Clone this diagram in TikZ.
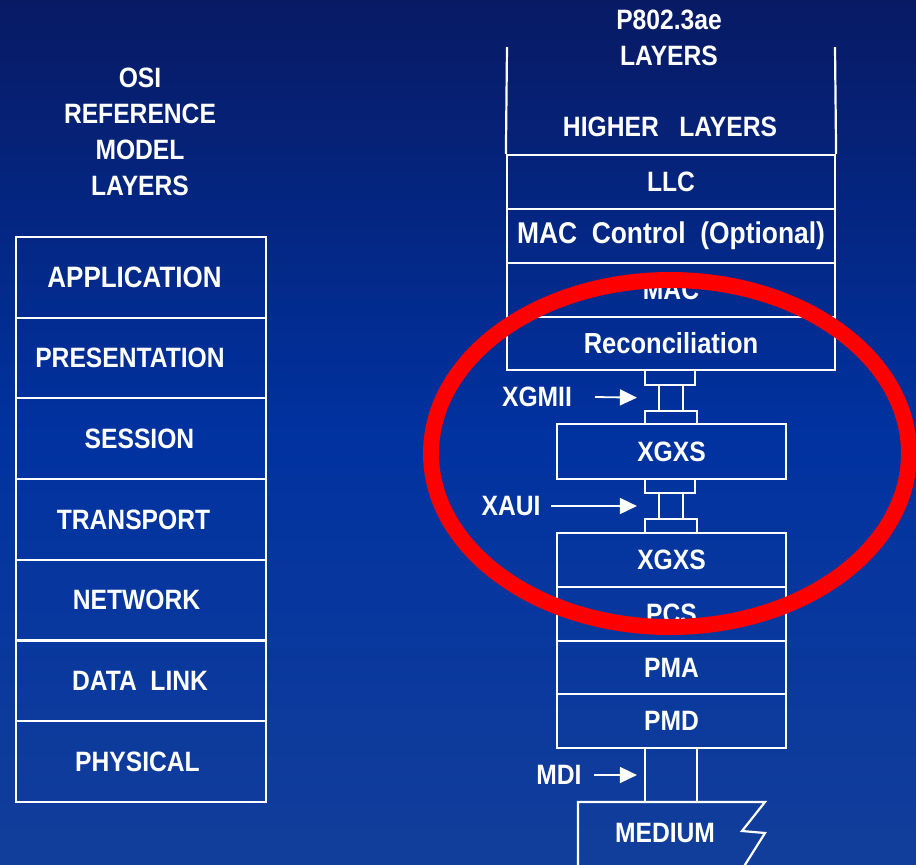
\documentclass[tikz,border=0pt]{standalone}
\usepackage{fontspec}
\setmainfont{Liberation Sans}[FakeStretch=0.88]
\usetikzlibrary{arrows.meta}
\definecolor{bgtop}{RGB}{8,26,100}
\definecolor{bgmid}{RGB}{0,50,160}
\definecolor{bgbot}{RGB}{18,62,155}
\newcommand\labfont{\fontsize{28}{36}\selectfont\bfseries}
\newcommand\bigfont{\fontsize{30}{36}\selectfont\bfseries}
\begin{document}
\begin{tikzpicture}[x=1pt,y=-1pt,
  cell/.style={draw=white, line width=2.2pt, inner sep=0pt, text=white, font=\labfont},
  osi/.style={cell, minimum width=250pt, minimum height=80.7pt},
  wide/.style={cell, minimum width=328pt, minimum height=54pt},
  plain/.style={draw=white, line width=2.2pt},
  lbl/.style={text=white, font=\labfont, inner sep=0pt},
  arr/.style={draw=white, line width=1.8pt, shorten >=21pt, -{Triangle[length=17pt,width=16pt]}}]
\useasboundingbox (0,0) rectangle (916,865);
\shade[top color=bgtop, bottom color=bgbot, middle color=bgmid] (0,0) rectangle (916,865);

% OSI column
\node[lbl, align=center] (osititle) at (140,132) {OSI\\REFERENCE\\MODEL\\LAYERS};
\node[osi] (app) at (141,277.3) {\fontsize{29.5}{36}\selectfont APPLICATION\hspace*{13pt}};
\node[osi] (pres) at (141,358) {PRESENTATION\hspace*{22pt}};
\node[osi] (sess) at (141,438.7) {SESSION\hspace*{3pt}};
\node[osi] (trans) at (141,519.4) {TRANSPORT\hspace*{15pt}};
\node[osi] (net) at (141,600.1) {NETWORK\hspace*{9pt}};
\node[osi] (dl) at (141,680.8) {DATA\ \ LINK\hspace*{2pt}};
\node[osi] (phy) at (141,761.5) {PHYSICAL\hspace*{7pt}};

% P802.3ae column
\node[lbl, align=center] (ptitle) at (669,38) {P802.3ae\\LAYERS};
\coordinate (hl1) at (507,47);
\coordinate (hr1) at (835,47);
\node[lbl] (higher) at (670,127) {HIGHER\ \ \ LAYERS};
\node[wide] (llc) at (671,182) {LLC};
\node[wide, font=\bigfont] (macc) at (671,236) {MAC\ \ Control\ \ (Optional)};
\node[wide] (mac) at (671,290) {MAC};
\node[wide, minimum height=53pt, font={\fontsize{29}{36}\selectfont\bfseries}] (rec) at (671,343.5) {Reconciliation};
\draw[plain] (hl1) -- (llc.north west);
\draw[plain] (hr1) -- (llc.north east);

% XGMII connector
\node[cell, minimum width=50pt, minimum height=15pt] (c1a) at (670,377.5) {};
\node[cell, minimum width=24pt, minimum height=26pt] (c1b) at (671,398) {};
\node[cell, minimum width=52pt, minimum height=13pt] (c1c) at (671,417.5) {};
\node[cell, minimum width=229pt, minimum height=55pt] (xgxs1) at (671.5,451.5) {XGXS};

% XAUI connector
\node[cell, minimum width=50pt, minimum height=14pt] (c2a) at (670,486) {};
\node[cell, minimum width=24pt, minimum height=26pt] (c2b) at (671,506) {};
\node[cell, minimum width=52pt, minimum height=14pt] (c2c) at (671,526) {};
\node[cell, minimum width=229pt, minimum height=54pt] (xgxs2) at (671.5,560) {XGXS};
\node[cell, minimum width=229pt, minimum height=54pt] (pcs) at (671.5,614) {PCS};
\node[cell, minimum width=229pt, minimum height=53pt] (pma) at (671.5,667.5) {PMA};
\node[cell, minimum width=229pt, minimum height=54pt] (pmd) at (671.5,721) {PMD};

% MDI
\node[cell, minimum width=52pt, minimum height=54pt] (mdi) at (671,775) {};
\draw[plain] (578,868) -- (578,802) -- (765,802) -- (742,831) -- (765,833) -- (743,868);
\node[lbl] (medium) at (665,833) {MEDIUM};

% labels and arrows
\node[lbl] (xgmii) at (537,397) {XGMII};
\coordinate (a1) at (595,397);
\draw[arr] (a1) -- (c1b.west);
\node[lbl] (xaui) at (511,506) {XAUI};
\coordinate (a2) at (551,506);
\draw[arr] (a2) -- (c2b.west);
\node[lbl] (mdil) at (559,775) {MDI};
\coordinate (a3) at (594,775);
\draw[arr, shorten >=7pt] (a3) -- (mdi.west);

% red ellipse
\coordinate (ec) at (670,453.5);
\draw[red, line width=16pt] (ec) ellipse [x radius=239, y radius=173.5];
\end{tikzpicture}
\end{document}
